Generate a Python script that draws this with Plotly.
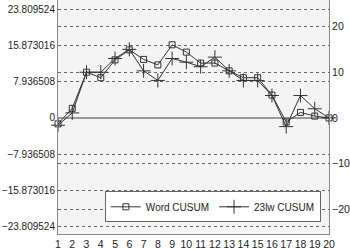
import plotly.graph_objects as go

x_vals = list(range(1, 21))
word_cusum = [-1.3, 2.1, 10.0, 8.8, 12.7, 14.9, 12.8, 11.6, 16.0, 14.4,
              12.0, 12.0, 10.3, 8.8, 8.8, 5.0, -0.9, 1.2, 0.4, 0.0]
lw_cusum = [-1.6, 1.1, 10.0, 10.0, 13.0, 15.0, 10.3, 8.2, 13.0, 12.2,
            11.2, 13.3, 10.3, 8.2, 8.2, 4.9, -1.9, 4.9, 2.0, 0.0]
left_ticks = [-23.809524, -15.873016, -7.936508, 0, 7.936508, 15.873016, 23.809524]
left_labels = ["\u221223.809524", "\u221215.873016", "\u22127.936508", "0",
               "7.936508", "15.873016", "23.809524"]
right_ticks = [-20, -10, 0, 10, 20]
right_labels = ["\u221220", "\u221210", "0", "10", "20"]

yr = [-25.4, 25.8]
font = dict(family="Liberation Sans, Arial, sans-serif", size=10, color="#222")

fig = go.Figure()
fig.add_trace(go.Scatter(
    x=x_vals, y=word_cusum, name="Word CUSUM", mode="lines+markers",
    line=dict(color="#333", width=1),
    marker=dict(symbol="square-open", size=6, color="#333", line=dict(width=1)),
    yaxis="y", cliponaxis=False))
fig.add_trace(go.Scatter(
    x=x_vals, y=lw_cusum, name="23lw CUSUM", mode="lines+markers",
    line=dict(color="#333", width=1),
    marker=dict(symbol="cross-thin", size=10, color="#333", line=dict(width=1, color="#333")),
    yaxis="y2", cliponaxis=False))

fig.update_layout(
    width=350, height=249,
    margin=dict(l=58, r=21, t=0, b=15, autoexpand=False),
    paper_bgcolor="white", plot_bgcolor="#f4f4f4",
    font=font,
    showlegend=True,
    legend=dict(orientation="h", x=0.97, xanchor="right", y=0.05, yanchor="bottom",
                bgcolor="white", bordercolor="#666", borderwidth=1,
                font=dict(size=10), itemwidth=30),
    xaxis=dict(range=[1, 20], tickvals=x_vals, ticks="", showgrid=False,
               zeroline=False, showline=True, linecolor="#888", linewidth=1,
               mirror=True, tickfont=dict(size=10.5), automargin=False),
    yaxis=dict(range=yr, tickvals=left_ticks, ticktext=left_labels, ticks="",
               showgrid=True, gridcolor="#666", griddash="3px,3px", gridwidth=1,
               zeroline=True, zerolinecolor="#999", zerolinewidth=2,
               showline=True, linecolor="#888", linewidth=1, tickfont=dict(size=10),
               automargin=False),
    yaxis2=dict(range=yr, tickvals=right_ticks, ticktext=right_labels, ticks="",
                overlaying="y", side="right",
                showgrid=True, gridcolor="#666", griddash="3px,3px", gridwidth=1,
                zeroline=True, zerolinecolor="#999", zerolinewidth=2,
                showline=True, linecolor="#888", linewidth=1, tickfont=dict(size=10.5),
                automargin=False),
)

fig.write_html("out.html", config={"displayModeBar": False},
               post_script="document.body.style.margin='0';document.body.style.overflow='hidden';")
